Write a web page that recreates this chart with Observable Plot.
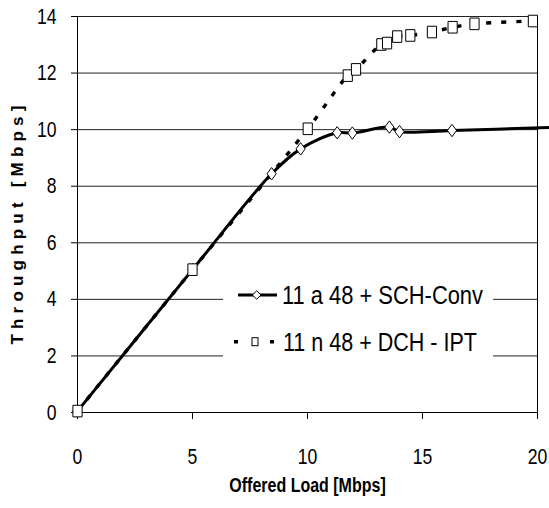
<!DOCTYPE html>
<html>
<head>
<meta charset="utf-8">
<script src="https://cdn.jsdelivr.net/npm/d3@7"></script>
<script src="https://cdn.jsdelivr.net/npm/@observablehq/plot@0.6"></script>
<style>
  html, body { margin: 0; padding: 0; background: #fff; }
  #chart { width: 549px; height: 508px; }
</style>
</head>
<body>
<div id="chart"></div>
<script>
// ---- data ----
const xTicks = [0, 5, 10, 15, 20];
const yTicks = [0, 2, 4, 6, 8, 10, 12, 14];
const seriesNames = ["11 a 48 + SCH-Conv", "11 n 48 + DCH - IPT"];

const schLoad = [0, 5, 8.44, 9.70, 11.29, 11.95, 13.56, 14.0, 16.28, 20.6];
const schThroughput = [0.05, 5.05, 8.44, 9.32, 9.89, 9.88, 10.09, 9.93, 9.97, 10.08];

const dchLoad = [0, 5, 10.01, 11.75, 12.11, 13.21, 13.46, 13.9, 14.47, 15.41, 16.31, 17.26, 19.8];
const dchThroughput = [0.05, 5.05, 10.03, 11.91, 12.13, 13.01, 13.06, 13.29, 13.33, 13.45, 13.62, 13.74, 13.84];

const xLabel = "Offered Load [Mbps]";
const yLabel = "Throughput [Mbps]";

// ---- tables built from the arrays ----
const sch = schLoad.map((x, i) => ({x, y: schThroughput[i]}));
const dch = dchLoad.map((x, i) => ({x, y: dchThroughput[i]}));

const narrow = "'Liberation Sans Narrow', 'Arial Narrow', Arial, 'Liberation Sans', sans-serif";
const wide = "Arial, 'Liberation Sans', sans-serif";

const tallDiamond = {draw(ctx) { ctx.moveTo(0, -6.2); ctx.lineTo(4.6, 0); ctx.lineTo(0, 6.2); ctx.lineTo(-4.6, 0); ctx.closePath(); }};
const tallSquare = {draw(ctx) { ctx.rect(-4.6, -5.8, 9.2, 11.6); }};

const chart = Plot.plot({
  width: 549,
  height: 508,
  marginLeft: 77,
  marginRight: 12,
  marginTop: 16,
  marginBottom: 96,
  style: {fontFamily: narrow, fontSize: "22px", background: "#fff", color: "#000"},
  x: {domain: [0, 20]},
  y: {domain: [0, 14]},
  marks: [
    Plot.ruleY(yTicks.filter(d => d > 0), {stroke: "#222", strokeWidth: 1}),
    Plot.axisY({ticks: yTicks, tickSize: 6, tickPadding: 15, label: null, stroke: "#000"}),
    Plot.axisX({ticks: xTicks, tickSize: 7, tickPadding: 29, label: null, stroke: "#000"}),
    Plot.ruleX([0], {stroke: "#000", strokeWidth: 1}),
    Plot.ruleX([20], {stroke: "#000", strokeWidth: 1}),
    Plot.ruleY([0], {stroke: "#000", strokeWidth: 1}),
    Plot.line(sch, {x: "x", y: "y", stroke: "#000", strokeWidth: 3, curve: "catmull-rom"}),
    Plot.line(dch, {x: "x", y: "y", stroke: "#000", strokeWidth: 3.4, strokeDasharray: "5 10", strokeLinecap: "butt", curve: "catmull-rom"}),
    Plot.dot(sch.filter(d => d.x <= 20), {x: "x", y: "y", symbol: tallDiamond, fill: "#fff", stroke: "#000", strokeWidth: 1}),
    Plot.dot(dch, {x: "x", y: "y", symbol: tallSquare, fill: "#fff", stroke: "#000", strokeWidth: 1}),
    Plot.text([yLabel], {frameAnchor: "left", textAnchor: "middle", dx: -60, dy: 8, rotate: -90, fontFamily: wide, fontWeight: "bold", fontSize: 17}),
    Plot.text([xLabel], {frameAnchor: "bottom", textAnchor: "middle", dy: 79, fontWeight: "bold", fontSize: 20})
  ]
});

document.getElementById("chart").appendChild(chart);

const svg = d3.select(chart);

// ---- emulate the condensed face of the reference ----
svg.selectAll("text").each(function() {
  if (this.textContent === yLabel) {
    d3.select(this).style("letter-spacing", "5.2px");
    return;
  }
  const len = this.getComputedTextLength();
  if (len > 0) {
    d3.select(this).attr("textLength", (len * 0.8).toFixed(1)).attr("lengthAdjust", "spacingAndGlyphs");
  }
});

// ---- in-plot legend ----
const lg = svg.append("g").attr("class", "legend").attr("text-anchor", "start");
lg.append("rect").attr("x", 223).attr("y", 272).attr("width", 270).attr("height", 98).attr("fill", "#fff");
// entry 1
lg.append("line").attr("x1", 238).attr("x2", 277).attr("y1", 295).attr("y2", 295).attr("stroke", "#000").attr("stroke-width", 3);
lg.append("path").attr("d", "M256.7,290.8L261,295L256.7,299.2L252.4,295Z").attr("fill", "#fff").attr("stroke", "#000");
lg.append("text").attr("x", 282).attr("y", 295).attr("dy", "0.35em").attr("font-size", 25.5).attr("font-family", narrow)
  .attr("textLength", 201).attr("lengthAdjust", "spacingAndGlyphs").text(seriesNames[0]);
// entry 2
lg.append("line").attr("x1", 234).attr("x2", 276).attr("y1", 341.7).attr("y2", 341.7).attr("stroke", "#000").attr("stroke-width", 3.4).attr("stroke-dasharray", "4 32");
lg.append("rect").attr("x", 252).attr("y", 337.7).attr("width", 6).attr("height", 8).attr("fill", "#fff").attr("stroke", "#000");
lg.append("text").attr("x", 283).attr("y", 341.7).attr("dy", "0.35em").attr("font-size", 25.5).attr("font-family", narrow)
  .attr("textLength", 194).attr("lengthAdjust", "spacingAndGlyphs").text(seriesNames[1]);
</script>
</body>
</html>
